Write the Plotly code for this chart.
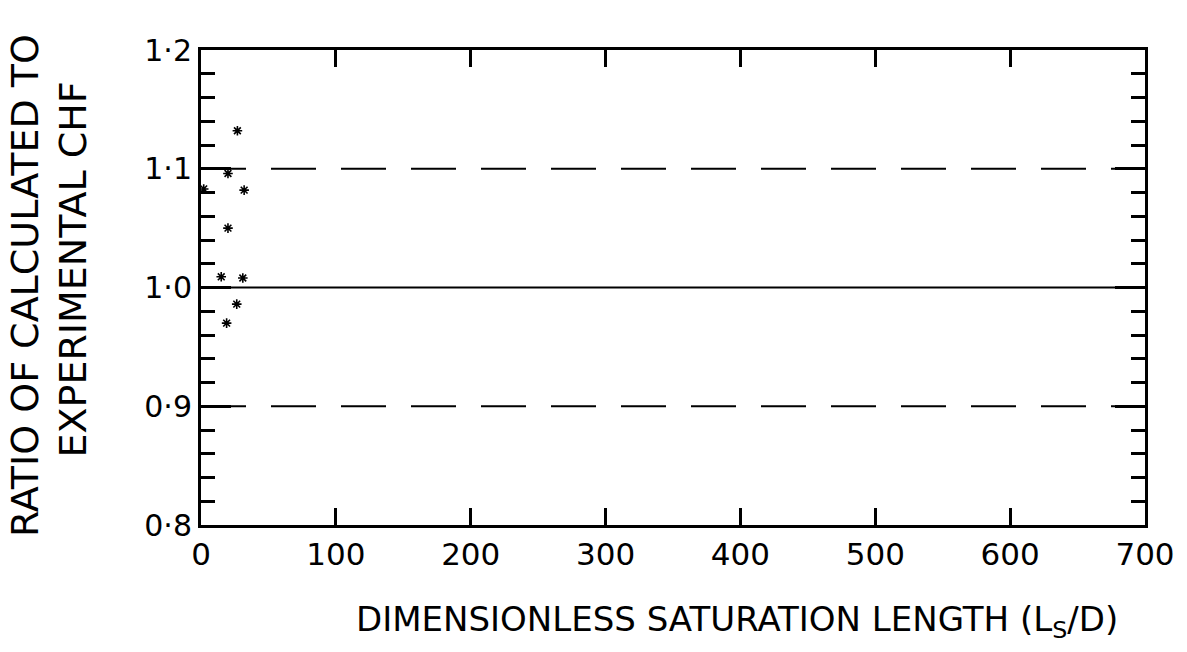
import plotly.graph_objects as go

# Data
ls_d = [2, 20, 27, 32, 20, 15, 31, 26.5, 19]
ratio = [1.083, 1.096, 1.132, 1.082, 1.050, 1.009, 1.008, 0.986, 0.970]

ref_levels = [1.1, 1.0, 0.9]
ref_dash = ["45px,25px", "solid", "45px,25px"]

y_tickvals = [0.8, 0.9, 1.0, 1.1, 1.2]
y_ticktext = ["0·8", "0·9", "1·0", "1·1", "1·2"]
x_tickvals = [0, 100, 200, 300, 400, 500, 600, 700]
x_ticktext = ["0", "100", "200", "300", "400", "500", "600", "700"]

FONT = "DejaVu Sans"

fig = go.Figure()
for lvl, d in zip(ref_levels, ref_dash):
    fig.add_trace(go.Scatter(x=[0, 700], y=[lvl, lvl], mode="lines",
                             line=dict(color="black", width=2.2, dash=d),
                             hoverinfo="skip", showlegend=False))

fig.add_trace(go.Scatter(x=ls_d, y=ratio, mode="markers",
                         marker=dict(symbol="asterisk-open", size=8, color="black",
                                     line=dict(color="black", width=1.6)),
                         showlegend=False))

fig.update_xaxes(range=[0, 700], tickvals=x_tickvals, ticktext=x_ticktext,
                 ticks="inside", ticklen=17, tickwidth=3, tickcolor="black",
                 showline=True, linewidth=3, linecolor="black", mirror="ticks",
                 showgrid=False, zeroline=False,
                 tickfont=dict(family=FONT, size=31, color="black"))
fig.update_yaxes(range=[0.8, 1.2], tickvals=y_tickvals, ticktext=y_ticktext,
                 ticks="inside", ticklen=30, tickwidth=3, tickcolor="black",
                 minor=dict(dtick=0.02, tick0=0.8, ticks="inside", ticklen=14,
                            tickwidth=3, tickcolor="black", showgrid=False),
                 showline=True, linewidth=3, linecolor="black", mirror="ticks",
                 showgrid=False, zeroline=False,
                 tickfont=dict(family=FONT, size=30, color="black"))

fig.add_annotation(text="RATIO OF CALCULATED TO", xref="paper", yref="paper",
                   x=-0.1865, y=0.505, xanchor="center", yanchor="middle",
                   textangle=-90, showarrow=False,
                   font=dict(family=FONT, size=38, color="black"))
fig.add_annotation(text="EXPERIMENTAL CHF", xref="paper", yref="paper",
                   x=-0.136, y=0.537, xanchor="center", yanchor="middle",
                   textangle=-90, showarrow=False,
                   font=dict(family=FONT, size=38, color="black"))
fig.add_annotation(text="DIMENSIONLESS SATURATION LENGTH (L<sub>S</sub>/D)",
                   xref="paper", yref="paper", x=0.568, y=-0.204,
                   xanchor="center", yanchor="middle",
                   showarrow=False, font=dict(family=FONT, size=34, color="black"))

fig.update_layout(width=1187, height=652, margin=dict(l=201, r=37, t=50, b=127),
                  paper_bgcolor="white", plot_bgcolor="white")
fig.write_html("out.html")
